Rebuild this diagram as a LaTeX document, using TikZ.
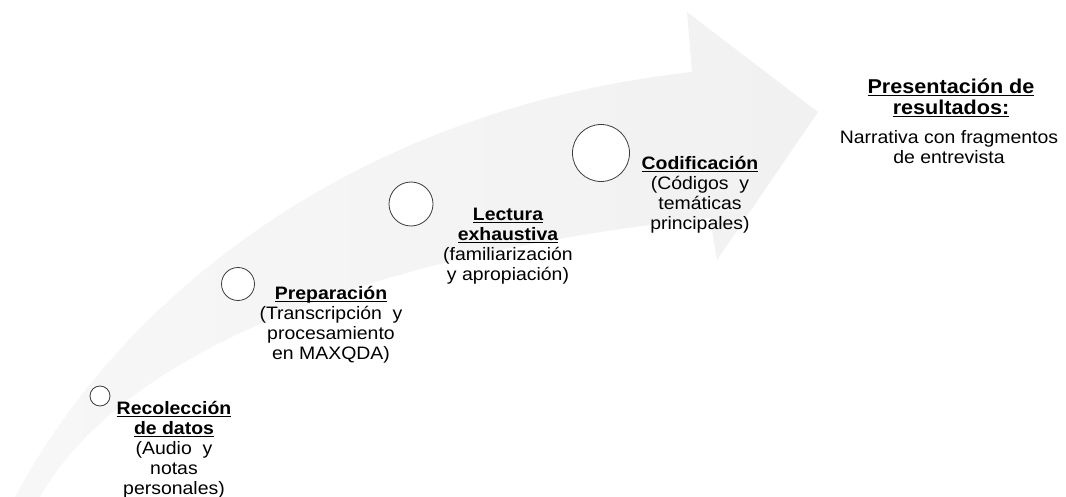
\documentclass[tikz,border=0pt]{standalone}
\usepackage{fontspec}
\setmainfont[FakeStretch=1.08]{Liberation Sans}
\definecolor{arrowgray}{RGB}{241,241,241}
\definecolor{arrowgrayL}{RGB}{247,247,247}
\definecolor{ringgray}{RGB}{60,60,60}
\newcommand{\hd}[1]{\setbox0\hbox{\bfseries #1}\leavevmode\rlap{\rule[-2.6pt]{\wd0}{1.1pt}}\box0}
\tikzset{
  stage/.style={circle, draw=ringgray, line width=0.8pt, fill=white, inner sep=0pt},
  lbl/.style={align=center, inner sep=0pt, font=\fontsize{18}{20}\selectfont, text=black},
  ttl/.style={align=center, inner sep=0pt, font=\fontsize{20}{21.5}\selectfont, text=black}
}
\begin{document}
\begin{tikzpicture}[x=1pt,y=-1pt]
\useasboundingbox (0,0) rectangle (1066,497);
% big curved arrow
\shade[left color=arrowgrayL, right color=arrowgray, draw=none]
  (15,497) .. controls (120,300) and (350,110) .. (692,72)
  -- (687,12) -- (818,112) -- (717,260) -- (710,218)
  .. controls (400,250) and (130,340) .. (40,497) -- cycle;
% circles
\node[stage, minimum size=20pt] (c1) at (100,396) {};
\node[stage, minimum size=33pt] (c2) at (238,284) {};
\node[stage, minimum size=44pt] (c3) at (411,204) {};
\node[stage, minimum size=57pt] (c4) at (601,153) {};
% labels
\node[lbl] (t1) at (174,450) {\hd{Recolección}\\ \hd{de datos}\\ (Audio\ \ y\\ notas\\ personales)};
\node[lbl] (t2) at (331,325) {\hd{Preparación}\\ (Transcripción\ \ y\\ procesamiento\\ en MAXQDA)};
\node[lbl] (t3) at (508,246) {\hd{Lectura}\\ \hd{exhaustiva}\\ (familiarización\\ y apropiación)};
\node[lbl] (t4) at (700,195) {\hd{Codificación}\\ (Códigos\ \ y\\ temáticas\\ principales)};
\node[ttl] (t5) at (951,98) {\hd{Presentación de}\\ \hd{resultados:}};
\node[lbl] (t6) at (949,147) {Narrativa con fragmentos\\ de entrevista};
\end{tikzpicture}
\end{document}
